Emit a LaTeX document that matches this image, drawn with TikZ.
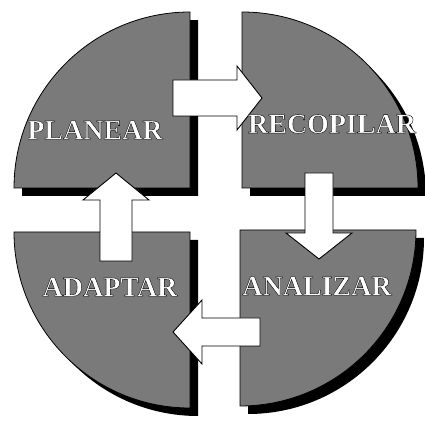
\documentclass[tikz,border=0pt]{standalone}
\usepackage{fontspec}
\setmainfont{Liberation Serif}
\usetikzlibrary{positioning}
\tikzstyle{quadrant} = [
    fill=black!52,
    draw=black,
    line width=0.8pt
]
\tikzstyle{shade} = [
    fill=black
]
\tikzstyle{blockarrow} = [
    fill=white,
    draw=black,
    line width=0.9pt,
    line join=miter
]
\tikzstyle{label} = [
    font=\bfseries\fontsize{28}{28}\selectfont,
    inner sep=0pt
]
% white letters with a black outline
\newcommand{\stage}[1]{\textcolor{white}{\special{pdf:code 0 G}\addfontfeature{FakeBold=1.4}#1}}

\begin{document}
\begin{tikzpicture}[x=1pt,y=1pt]

\useasboundingbox (0,0) rectangle (424,426);

% shadows of the four quarters
\fill [shade] (198,230) -- (198,406) arc[start angle=90,end angle=180,radius=176] -- cycle;
\fill [shade] (250,230) -- (426,230) arc[start angle=0,end angle=90,radius=176] -- cycle;
\fill [shade] (198,186) -- (22,186) arc[start angle=180,end angle=270,radius=176] -- cycle;
\fill [shade] (248,188) -- (248,12) arc[start angle=270,end angle=360,radius=176] -- cycle;

% the four quarters
\draw [quadrant] (190,238) -- (190,414) arc[start angle=90,end angle=180,radius=176] -- cycle;
\draw [quadrant] (242,238) -- (418,238) arc[start angle=0,end angle=90,radius=176] -- cycle;
\draw [quadrant] (190,194) -- (14,194) arc[start angle=180,end angle=270,radius=176] -- cycle;
\draw [quadrant] (240,196) -- (240,20) arc[start angle=270,end angle=360,radius=176] -- cycle;

% arrows between the quarters
\draw [blockarrow] (173,346) -- (237,346) -- (237,360) -- (262,328)
    -- (237,296) -- (237,310) -- (173,310) -- cycle;
\draw [blockarrow] (305,253) -- (333,253) -- (333,193) -- (352,193)
    -- (319,167) -- (286,193) -- (305,193) -- cycle;
\draw [blockarrow] (260,108) -- (202,108) -- (202,126) -- (173,94)
    -- (202,62) -- (202,80) -- (260,80) -- cycle;
\draw [blockarrow] (100,165) -- (100,226) -- (83,226) -- (116,253)
    -- (149,226) -- (132,226) -- (132,165) -- cycle;

\node (planear) [label] at (95,296) {\stage{PLANEAR}};
\node (recopilar) [label] at (332,302) {\stage{RECOPILAR}};
\node (adaptar) [label] at (110,139) {\stage{ADAPTAR}};
\node (analizar) [label] at (317,140) {\stage{ANALIZAR}};

\end{tikzpicture}
\end{document}
